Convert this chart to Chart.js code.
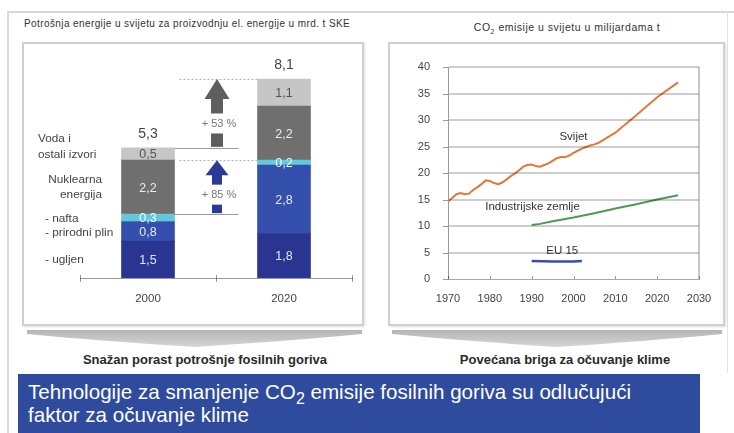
<!DOCTYPE html>
<html><head><meta charset="utf-8">
<script src="https://cdn.jsdelivr.net/npm/chart.js@4"></script>
<style>
html,body{margin:0;padding:0;background:#fff;width:734px;height:433px;overflow:hidden;font-family:'Liberation Sans',Arial,sans-serif;}
.abs{position:absolute;}
#frameTop{left:8px;top:11px;width:726px;height:0;border-top:2px solid #d6d6d6}
#frameLeft{left:7px;top:11px;width:0;height:422px;border-left:2px solid #dadada}
#frameRight{left:727px;top:11px;width:0;height:362px;border-left:1px solid #e2e2e2}
.box{border:2px solid #d0d0d0;box-sizing:border-box;background:#fff;box-shadow:1px 1px 2px rgba(0,0,0,0.12)}
#boxL{left:22px;top:42px;width:342px;height:284px}
#boxR{left:388px;top:42px;width:337px;height:284px}
#titleL{left:24px;top:18px;font-size:10px;letter-spacing:0.4px;color:#333;white-space:nowrap}
#titleR{left:440px;top:21px;width:254px;text-align:center;font-size:10.5px;letter-spacing:0.5px;color:#333;white-space:nowrap}
.cap{top:352px;font-size:13px;font-weight:bold;color:#2a2a2a;text-align:center;white-space:nowrap}
#capL{left:45px;width:320px}
#capR{left:405px;width:320px}
#banner{left:18px;top:374px;width:682px;height:59px;background:#2f4b9d;color:#fff;font-size:20.6px;line-height:23px;padding:6px 0 0 10px;box-sizing:border-box;white-space:nowrap}
#banner sub{font-size:16px;vertical-align:-5px;line-height:0}
canvas{position:absolute}
#gridLayer{position:absolute;left:0;top:0;width:734px;height:433px;pointer-events:none}
#gridLayer div{position:absolute;mix-blend-mode:multiply}
</style></head>
<body>
<div id="frameTop" class="abs"></div>
<div id="frameLeft" class="abs"></div>
<div id="frameRight" class="abs"></div>
<div id="titleL" class="abs">Potrošnja energije u svijetu za proizvodnju el. energije u mrd. t SKE</div>
<div id="titleR" class="abs">CO<sub style="font-size:7px">2</sub> emisije u svijetu u milijardama t</div>
<div id="boxL" class="abs box"></div>
<div id="boxR" class="abs box"></div>
<svg class="abs" style="left:0;top:0" width="734" height="433">
<defs><linearGradient id="cg" x1="0" y1="0" x2="0" y2="1"><stop offset="0" stop-color="#b4b4b4"/><stop offset="1" stop-color="#d6d6d6"/></linearGradient></defs>
<path d="M27 330 L362 330 L362 334 Q290 341 195 347 Q100 341 27 334 Z" fill="url(#cg)"/>
<path d="M392 330 L722 330 L722 334 Q650 341 557 347 Q465 341 392 334 Z" fill="url(#cg)"/>
</svg>
<div id="capL" class="abs cap">Snažan porast potrošnje fosilnih goriva</div>
<div id="capR" class="abs cap">Povećana briga za očuvanje klime</div>
<div id="banner" class="abs">Tehnologije za smanjenje CO<sub>2</sub> emisije fosilnih goriva su odlučujući<br>faktor za očuvanje klime</div>
<canvas id="cL" width="341" height="282" style="left:22px;top:43px"></canvas>
<canvas id="cR" width="336" height="282" style="left:388px;top:43px"></canvas>
<div id="gridLayer"></div>
<script>
// ---- Bar chart data ----
const categories = ['2000', '2020'];
const segNames = ['ugljen', 'prirodni plin', 'nafta', 'Nuklearna energija', 'Voda i ostali izvori'];
const ugljen = [1.5, 1.8];
const prirodniPlin = [0.8, 2.8];
const nafta = [0.3, 0.2];
const nuklearna = [2.2, 2.2];
const voda = [0.5, 1.1];
// ---- Line chart data ----
const svijetYears = [1970,1971,1972,1973,1974,1975,1976,1977,1978,1979,1980,1981,1982,1983,1984,1985,1986,1987,1988,1989,1990,1991,1992,1993,1994,1995,1996,1997,1998,1999,2000,2001,2002,2003,2004,2005,2006,2010,2015,2020,2025];
const svijetVals  = [14.6,15.3,16.0,16.2,16.0,16.1,16.8,17.3,17.9,18.6,18.5,18.1,17.9,18.2,18.8,19.4,19.9,20.5,21.2,21.5,21.6,21.3,21.2,21.5,21.8,22.3,22.8,23.0,23.0,23.3,23.8,24.2,24.6,24.9,25.2,25.4,25.7,27.6,30.9,34.3,37.1];
const indYears = [1990,1992,1995,2000,2005,2010,2015,2020,2025];
const indVals  = [10.2,10.4,10.9,11.6,12.4,13.3,14.1,15.0,15.8];
const euYears = [1990,1995,2000,2002];
const euVals  = [3.4,3.3,3.3,3.4];
const yearTicks = [1970,1980,1990,2000,2010,2020,2030];
const co2Ticks = [0,5,10,15,20,25,30,35,40];

const F = "'Liberation Sans', Arial, sans-serif";
const fmt = v => v.toFixed(1).replace('.', ',');
const segData = [ugljen, prirodniPlin, nafta, nuklearna, voda];
const segColors = ['#293590', '#3450ac', '#62c8da', '#6f6f6f', '#c6c6c6'];
const segText = ['#e6e8f4', '#e6e8f4', '#f2ffff', '#ececec', '#555'];

const barPlugin = {
  id: 'barPlugin',
  afterDatasetsDraw(chart) {
    const {ctx, scales: {x, y}} = chart;
    ctx.save();
    ctx.textAlign = 'center'; ctx.textBaseline = 'middle';
    ctx.font = '12.5px ' + F;
    chart.data.datasets.forEach((ds, i) => {
      const meta = chart.getDatasetMeta(i);
      meta.data.forEach((bar, j) => {
        ctx.fillStyle = segText[i];
        ctx.fillText(fmt(ds.data[j]), bar.x, (bar.y + bar.base) / 2 + 1);
      });
    });
    const totals = categories.map((c, j) => segData.reduce((s, d) => s + d[j], 0));
    const fossil = categories.map((c, j) => ugljen[j] + prirodniPlin[j] + nafta[j]);
    ctx.font = '14px ' + F; ctx.fillStyle = '#444';
    const m0 = chart.getDatasetMeta(0).data;
    totals.forEach((t, j) => ctx.fillText(fmt(t), m0[j].x, y.getPixelForValue(t) - 14));
    const seg = i => { const b = chart.getDatasetMeta(i).data[0]; return (b.y + b.base) / 2; };
    ctx.font = '11.8px ' + F; ctx.fillStyle = '#444';
    ctx.textAlign = 'left';
    ctx.fillText('Voda i', 16, seg(4) - 15);
    ctx.fillText('ostali izvori', 16, seg(4) + 1);
    ctx.textAlign = 'right';
    ctx.fillText('Nuklearna', 80, seg(3) - 7);
    ctx.fillText('energija', 80, seg(3) + 8);
    ctx.textAlign = 'left';
    ctx.fillText('- nafta', 23, seg(2) + 1);
    ctx.fillText('- prirodni plin', 23, seg(1) + 1);
    ctx.fillText('- ugljen', 23, seg(0));
    const b0 = m0[0], b1 = m0[1];
    const r0 = b0.x + b0.width / 2, l1 = b1.x - b1.width / 2;
    ctx.lineWidth = 1;
    ctx.strokeStyle = '#9a9a9a';
    [totals[0], fossil[0]].forEach(v => {
      const py = Math.round(y.getPixelForValue(v)) + 0.5;
      ctx.beginPath(); ctx.moveTo(r0, py); ctx.lineTo(r0 + 64, py); ctx.stroke();
    });
    ctx.strokeStyle = '#b0b0b0'; ctx.setLineDash([2, 2]);
    [totals[1], fossil[1]].forEach(v => {
      const py = Math.round(y.getPixelForValue(v)) + 0.5;
      ctx.beginPath(); ctx.moveTo(l1 - 78, py); ctx.lineTo(l1, py); ctx.stroke();
    });
    ctx.setLineDash([]);
    const ax = x.getPixelForValue(0.5) + 1;
    function arrow(top, bottom, color, hh, hw, sw, label) {
      ctx.fillStyle = color;
      ctx.beginPath();
      ctx.moveTo(ax, top); ctx.lineTo(ax + hw / 2, top + hh); ctx.lineTo(ax - hw / 2, top + hh); ctx.closePath(); ctx.fill();
      const mid = (top + hh + bottom) / 2;
      ctx.fillRect(ax - sw / 2, top + hh - 0.5, sw, mid - 10 - (top + hh) + 0.5);
      ctx.fillRect(ax - sw / 2, mid + 10, sw, bottom - 1 - (mid + 10));
      ctx.fillStyle = '#777'; ctx.font = '11px ' + F; ctx.textAlign = 'center';
      ctx.fillText(label, ax + 2, mid);
    }
    const g1 = Math.round((totals[1] / totals[0] - 1) * 100);
    const g2 = Math.round((fossil[1] / fossil[0] - 1) * 100);
    arrow(y.getPixelForValue(totals[1]), y.getPixelForValue(totals[0]), '#5e5e5e', 20, 25, 12, '+ ' + g1 + ' %');
    arrow(y.getPixelForValue(fossil[1]), y.getPixelForValue(fossil[0]), '#2b3b95', 15, 23, 10, '+ ' + g2 + ' %');
    ctx.restore();
  }
};

const chartL = new Chart(document.getElementById('cL'), {
  type: 'bar',
  data: {
    labels: categories,
    datasets: segNames.map((n, i) => ({label: n, data: segData[i], backgroundColor: segColors[i], barThickness: 53, borderWidth: 0}))
  },
  options: {
    responsive: false, animation: false,
    layout: {padding: {left: 58, right: 11, top: 14, bottom: 0}},
    plugins: {legend: {display: false}, tooltip: {enabled: false}},
    scales: {
      x: {stacked: true,
          ticks: {color: '#444', font: {size: 11.5, family: F}, padding: 6},
          grid: {display: false},
          border: {color: '#999', width: 1},
          afterFit(s) { s.height = 47; }},
      y: {stacked: true, display: false, min: 0, max: 9}
    }
  },
  plugins: [barPlugin]
});

const labelPlugin = {
  id: 'labelPlugin',
  afterDatasetsDraw(chart) {
    const {ctx, scales: {x, y}} = chart;
    ctx.save();
    ctx.font = '11.5px ' + F; ctx.fillStyle = '#333';
    ctx.textAlign = 'center'; ctx.textBaseline = 'middle';
    ctx.fillText('Svijet', x.getPixelForValue(2000), y.getPixelForValue(26.9));
    ctx.fillText('Industrijske zemlje', x.getPixelForValue(1990.2), y.getPixelForValue(13.6));
    ctx.fillText('EU 15', x.getPixelForValue(1997.3), y.getPixelForValue(5.3));
    ctx.restore();
  }
};
const pts = (xs, ys) => xs.map((t, i) => ({x: t, y: ys[i]}));
const chartR = new Chart(document.getElementById('cR'), {
  type: 'line',
  data: {datasets: [
    {label: 'Svijet', data: pts(svijetYears, svijetVals), borderColor: '#e2783a', borderWidth: 2, pointRadius: 0, tension: 0},
    {label: 'Industrijske zemlje', data: pts(indYears, indVals), borderColor: '#4f9a4f', borderWidth: 2, pointRadius: 0, tension: 0},
    {label: 'EU 15', data: pts(euYears, euVals), borderColor: '#3a4bab', borderWidth: 2.5, pointRadius: 0, tension: 0}
  ]},
  options: {
    responsive: false, animation: false,
    layout: {padding: {top: 24, right: 25, left: 0, bottom: 0}},
    plugins: {legend: {display: false}, tooltip: {enabled: false}},
    scales: {
      x: {type: 'linear', min: yearTicks[0], max: yearTicks[yearTicks.length - 1],
          afterBuildTicks(s) { s.ticks = yearTicks.map(v => ({value: v})); },
          ticks: {color: '#444', font: {size: 11, family: F}, padding: 5, callback: v => String(v)},
          grid: {display: false},
          border: {color: '#a8a8a8', width: 1},
          afterFit(s) { s.height = 46; }},
      y: {min: co2Ticks[0], max: co2Ticks[co2Ticks.length - 1],
          afterBuildTicks(s) { s.ticks = co2Ticks.map(v => ({value: v})); },
          ticks: {color: '#444', font: {size: 11, family: F}, padding: 10},
          grid: {display: false},
          border: {color: '#999', width: 1},
          afterFit(s) { s.width = 60; }}
    }
  },
  plugins: [labelPlugin]
});

// Grid lines and tick marks: placed from the charts' own scales, layered over the canvases (multiply blend)
const layer = document.getElementById('gridLayer');
function rect(l, t, w, h, c) {
  const d = document.createElement('div');
  d.style.left = l + 'px'; d.style.top = t + 'px'; d.style.width = w + 'px'; d.style.height = h + 'px'; d.style.background = c;
  layer.appendChild(d);
}
(function () {
  const ox = 388, oy = 43;
  const a = chartR.chartArea, xs = chartR.scales.x, ys = chartR.scales.y;
  const L = Math.round(a.left), R = Math.round(a.right), T = Math.round(a.top), B = Math.round(a.bottom);
  co2Ticks.forEach(v => {
    const py = Math.round(ys.getPixelForValue(v));
    if (v !== 0) rect(ox + L + 1, oy + py - 1, R - L - 1, 2, '#cdcdcd');
    rect(ox + L - 5, oy + py, 5, 1, '#999');
  });
  const rx = Math.round(xs.getPixelForValue(yearTicks[yearTicks.length - 1]));
  rect(ox + rx - 1, oy + T, 2, B - T, '#c8c8c8');
  yearTicks.forEach(v => {
    const tx = Math.round(xs.getPixelForValue(v));
    rect(ox + tx, oy + B - 3, 1, 3, '#999');
  });
})();
(function () {
  const ox = 22, oy = 43;
  const xs = chartL.scales.x, ys = chartL.scales.y;
  const ay = Math.round(ys.getPixelForValue(0));
  [-0.5, 0.5, 1.5].forEach(v => {
    const tx = Math.round(xs.getPixelForValue(v));
    rect(ox + tx, oy + ay - 3, 1, 7, '#999');
  });
})();
</script>
</body></html>
